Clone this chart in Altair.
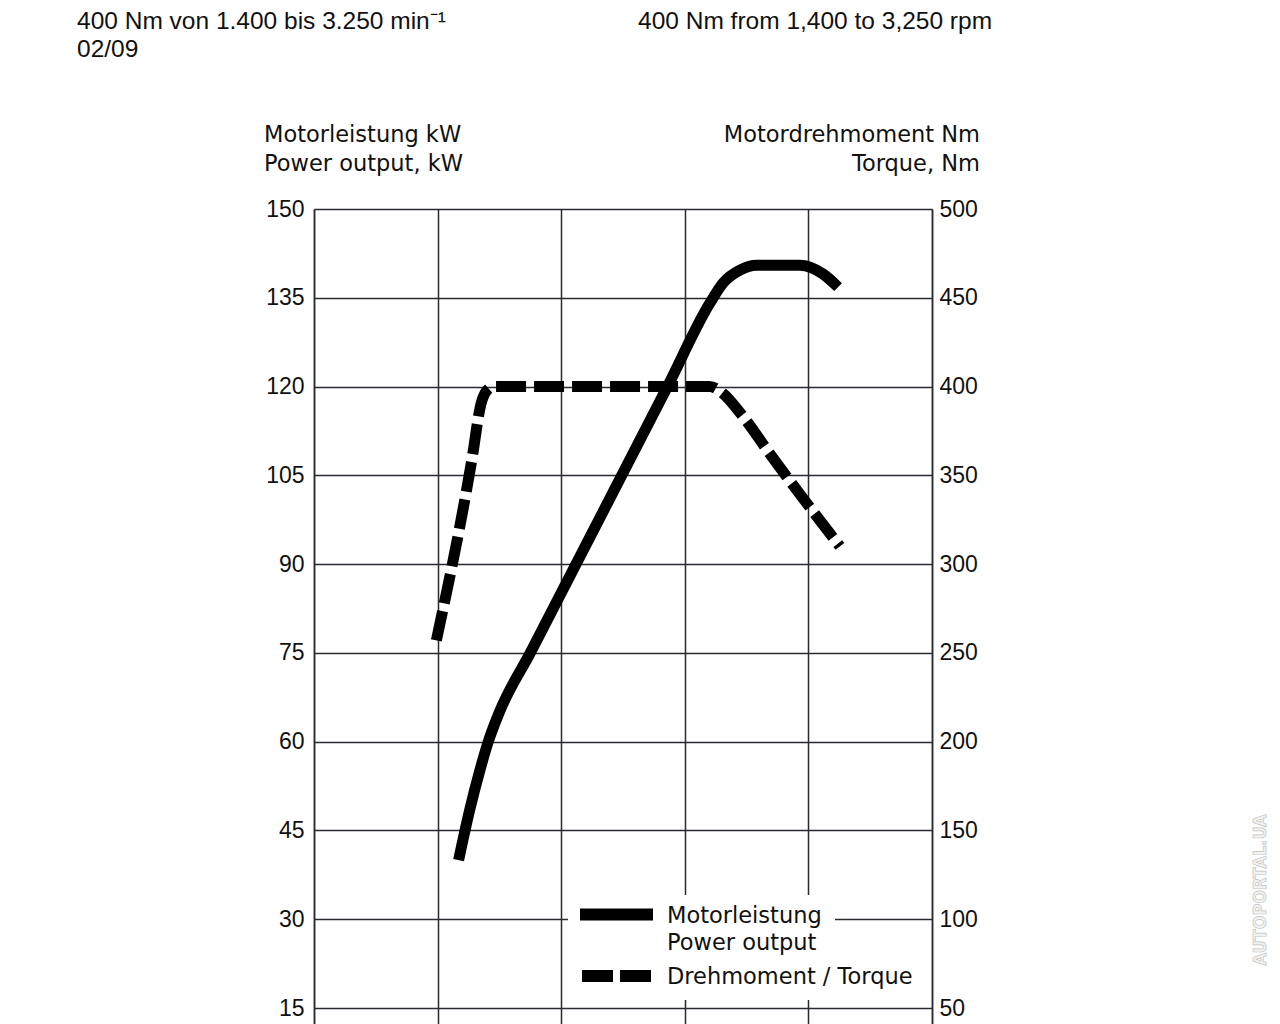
import altair as alt
import pandas as pd

# ---- data ----
power_rpm = [1170, 1260, 1340, 1410, 1500, 1750, 2860, 3200, 3310, 3450, 3580, 3930, 4120, 4240]
power_kw = [40, 48.5, 55, 60, 65, 75, 120, 134, 137.5, 139.7, 140.5, 140.5, 139, 136.8]

torque_rpm = [990, 1280, 1350, 1390, 1450, 3200, 3310, 3450, 3710, 3990, 4255]
torque_nm = [257, 360, 390, 397, 400, 400, 396, 385, 360, 334, 310]

rpm_grid = [0, 1000, 2000, 3000, 4000, 5000]
kw_ticks = [15, 30, 45, 60, 75, 90, 105, 120, 135, 150]
nm_ticks = [50, 100, 150, 200, 250, 300, 350, 400, 450, 500]

header_de = "400 Nm von 1.400 bis 3.250 min⁻¹"
header_en = "400 Nm from 1,400 to 3,250 rpm"
header_date = "02/09"
left_title = ["Motorleistung kW", "Power output, kW"]
right_title = ["Motordrehmoment Nm", "Torque, Nm"]
legend_power = ["Motorleistung", "Power output"]
legend_torque = "Drehmoment / Torque"
watermark = "AUTOPORTAL.UA"

power_df = pd.DataFrame({"rpm": power_rpm, "kw": power_kw})
torque_df = pd.DataFrame({"rpm": torque_rpm, "nm": torque_nm})

# ---- style ----
W, H = 618, 815
KW_LO = 150 - H * 135 / 799
NM_LO = KW_LO * 10 / 3
GRID = "#2a2a33"
LABEL_FONT = "Liberation Sans, Arial, sans-serif"
TITLE_FONT = "DejaVu Sans, Verdana, sans-serif"

x_enc = alt.X(
    "rpm:Q",
    scale=alt.Scale(domain=[0, 5000], nice=False, zero=False),
    axis=alt.Axis(values=rpm_grid, grid=True, labels=False, ticks=False, domain=False,
                  title=None, gridColor=GRID, gridWidth=1.5, gridOpacity=1),
)

power = alt.Chart(power_df).mark_line(
    color="black", strokeWidth=11, strokeCap="butt", strokeJoin="round", interpolate="monotone"
).encode(
    x=x_enc,
    y=alt.Y(
        "kw:Q",
        scale=alt.Scale(domain=[KW_LO, 150], nice=False, zero=False),
        axis=alt.Axis(values=kw_ticks, orient="left", grid=True, ticks=False, domain=True,
                      domainColor=GRID, domainWidth=1.5, gridColor=GRID, gridWidth=1.5,
                      gridOpacity=1, labelFont=LABEL_FONT, labelFontSize=23, labelColor="#111",
                      labelPadding=10, title=None),
    ),
)

torque = alt.Chart(torque_df).mark_line(
    color="black", strokeWidth=11, strokeCap="butt", strokeJoin="round",
    strokeDash=[30, 8], interpolate="monotone"
).encode(
    x=alt.X("rpm:Q", scale=alt.Scale(domain=[0, 5000], nice=False, zero=False)),
    y=alt.Y(
        "nm:Q",
        scale=alt.Scale(domain=[NM_LO, 500], nice=False, zero=False),
        axis=alt.Axis(values=nm_ticks, orient="right", grid=False, ticks=False, domain=True,
                      domainColor=GRID, domainWidth=1.5, labelFont=LABEL_FONT, labelFontSize=23,
                      labelColor="#111", labelPadding=7, title=None),
    ),
)


def txt(s, x, y, font=TITLE_FONT, size=22.5, align="left", color="#111", **kw):
    return alt.Chart(pd.DataFrame({"t": [s]})).mark_text(
        font=font, fontSize=size, align=align, baseline="alphabetic", color=color, **kw
    ).encode(text="t:N", x=alt.value(x), y=alt.value(y))


one = pd.DataFrame({"k": [0]})
legend_bg = alt.Chart(one).mark_rect(color="white").encode(
    x=alt.value(254), x2=alt.value(521), y=alt.value(686), y2=alt.value(791)
)
legend_solid = alt.Chart(one).mark_rule(color="black", strokeWidth=12).encode(
    x=alt.value(266), x2=alt.value(339), y=alt.value(705.5)
)
legend_dash = alt.Chart(one).mark_rule(color="black", strokeWidth=12, strokeDash=[31, 7]).encode(
    x=alt.value(268), x2=alt.value(339), y=alt.value(767)
)

texts = [
    txt(header_de, -237, -180, font=LABEL_FONT, size=24.5),
    txt(header_en, 324, -180, font=LABEL_FONT, size=24.5),
    txt(header_date, -237, -152, font=LABEL_FONT, size=24.5),
    txt(left_title[0], -50, -67),
    txt(left_title[1], -50, -38),
    txt(right_title[0], 666, -67, align="right"),
    txt(right_title[1], 666, -38, align="right"),
    txt(legend_power[0], 353, 714),
    txt(legend_power[1], 353, 741),
    txt(legend_torque, 353, 775),
]

wm = alt.Chart(pd.DataFrame({"t": [watermark]})).mark_text(
    font="Liberation Sans Narrow, DejaVu Sans Condensed, Liberation Sans", fontSize=18,
    fontWeight="bold", angle=270, align="center", baseline="middle",
    color="#f2f2f2", stroke="#c4c4c4", strokeWidth=0.7
).encode(text="t:N", x=alt.value(947), y=alt.value(681))

chart = alt.layer(
    power, torque, legend_bg, legend_solid, legend_dash, *texts, wm
).resolve_scale(y="independent").properties(
    width=W, height=H,
    padding={"left": 306, "top": 201, "right": 340, "bottom": 12},
    autosize=alt.AutoSizeParams(type="none"),
    background="white",
).configure_view(strokeWidth=0)

chart.save("out.html", embed_options={"renderer": "svg", "actions": False})
